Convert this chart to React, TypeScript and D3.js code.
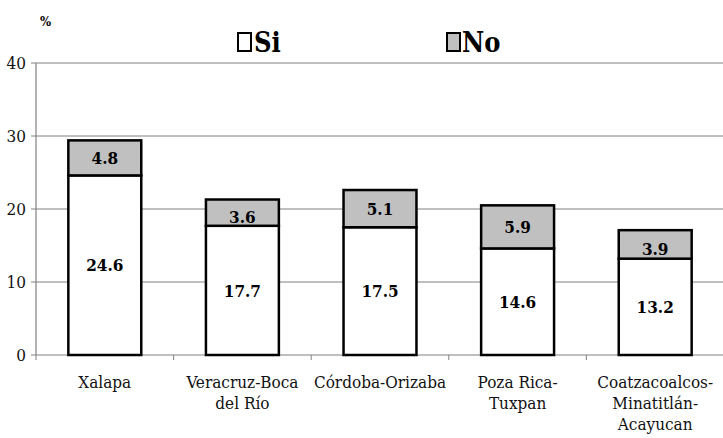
import React from 'react';
import * as d3 from 'd3';

const regions = ['Xalapa', 'Veracruz-Boca del Río', 'Córdoba-Orizaba', 'Poza Rica-Tuxpan', 'Coatzacoalcos-Minatitlán-Acayucan'];
const regionLines = [['Xalapa'], ['Veracruz-Boca', 'del Río'], ['Córdoba-Orizaba'], ['Poza Rica-', 'Tuxpan'], ['Coatzacoalcos-', 'Minatitlán-', 'Acayucan']];
const siValues = [24.6, 17.7, 17.5, 14.6, 13.2];
const noValues = [4.8, 3.6, 5.1, 5.9, 3.9];
const yTicks = [0, 10, 20, 30, 40];

const W = 723;
const H = 438;
const margin = { top: 63, right: -1, bottom: 83, left: 36 };
const font = { fontFamily: "'DejaVu Serif Condensed'" };
const fontBold = { fontFamily: "'DejaVu Serif Condensed'", fontWeight: 'bold' as const };

export default function App() {
  const x = d3
    .scaleBand<string>()
    .domain(regions)
    .range([margin.left, W - margin.right])
    .paddingInner(0.47)
    .paddingOuter(0.235);
  const y = d3.scaleLinear().domain([0, 40]).range([H - margin.bottom, margin.top]);
  const step = x.step();
  const x0 = margin.left;
  const x1 = W - margin.right;

  const stacked = d3
    .stack<number>()
    .keys(['si', 'no'])
    .value((i, key) => (key === 'si' ? siValues[i] : noValues[i]))(d3.range(regions.length));

  return (
    <svg width={W} height={H} style={{ position: 'absolute', left: 0, top: 0, background: '#fff' }}>
      <style>{'body{margin:0}'}</style>
      {/* gridlines */}
      {yTicks.slice(1).map((t) => (
        <line key={t} x1={x0} x2={x1} y1={y(t)} y2={y(t)} stroke="#808080" strokeWidth={1} />
      ))}
      {/* y axis */}
      <line x1={x0} x2={x0} y1={y(40)} y2={y(0)} stroke="#808080" strokeWidth={1.2} />
      {yTicks.map((t) => (
        <g key={t}>
          <line x1={x0 - 5} x2={x0} y1={y(t)} y2={y(t)} stroke="#808080" />
          <text x={x0 - 10} y={y(t)} dy="0.36em" textAnchor="end" style={font} fontSize={17} fill="#111">
            {t}
          </text>
        </g>
      ))}
      <text x={40} y={26} style={fontBold} fontSize={13}>%</text>
      {/* x axis */}
      <line x1={x0} x2={x1} y1={y(0)} y2={y(0)} stroke="#808080" strokeWidth={1.2} />
      {d3.range(regions.length + 1).map((i) => (
        <line key={i} x1={x0 + i * step} x2={x0 + i * step} y1={y(0)} y2={y(0) + 5} stroke="#808080" />
      ))}
      {/* bars */}
      {stacked.map((layer) =>
        layer.map((d, i) => (
          <rect
            key={layer.key + i}
            x={x(regions[i])}
            y={y(d[1])}
            width={x.bandwidth()}
            height={y(d[0]) - y(d[1])}
            fill={layer.key === 'si' ? '#ffffff' : '#c0c0c0'}
            stroke="#000"
            strokeWidth={2.5}
          />
        ))
      )}
      {/* value labels */}
      {stacked.map((layer) =>
        layer.map((d, i) => (
          <text
            key={'l' + layer.key + i}
            x={(x(regions[i]) ?? 0) + x.bandwidth() / 2}
            y={(y(d[0]) + y(d[1])) / 2 + (layer.key === 'no' && d[1] - d[0] < 4 ? 4 : 0)}
            dy="0.36em"
            textAnchor="middle"
            style={fontBold}
            fontSize={17}
            fill="#000"
          >
            {(layer.key === 'si' ? siValues[i] : noValues[i]).toFixed(1)}
          </text>
        ))
      )}
      {/* category labels */}
      {regions.map((r, i) => (
        <text key={r} x={(x(r) ?? 0) + x.bandwidth() / 2} y={388} textAnchor="middle" style={font} fontSize={17} fill="#111">
          {regionLines[i].map((ln, j) => (
            <tspan key={j} x={(x(r) ?? 0) + x.bandwidth() / 2} dy={j === 0 ? 0 : 21}>
              {ln}
            </tspan>
          ))}
        </text>
      ))}
      {/* legend */}
      <rect x={238} y={33} width={13} height={18} fill="#fff" stroke="#000" strokeWidth={2} />
      <text x={254} y={52} style={fontBold} fontSize={27}>Si</text>
      <rect x={447} y={33} width={13} height={18} fill="#c0c0c0" stroke="#000" strokeWidth={2} />
      <text x={462} y={52} style={fontBold} fontSize={27}>No</text>
    </svg>
  );
}
